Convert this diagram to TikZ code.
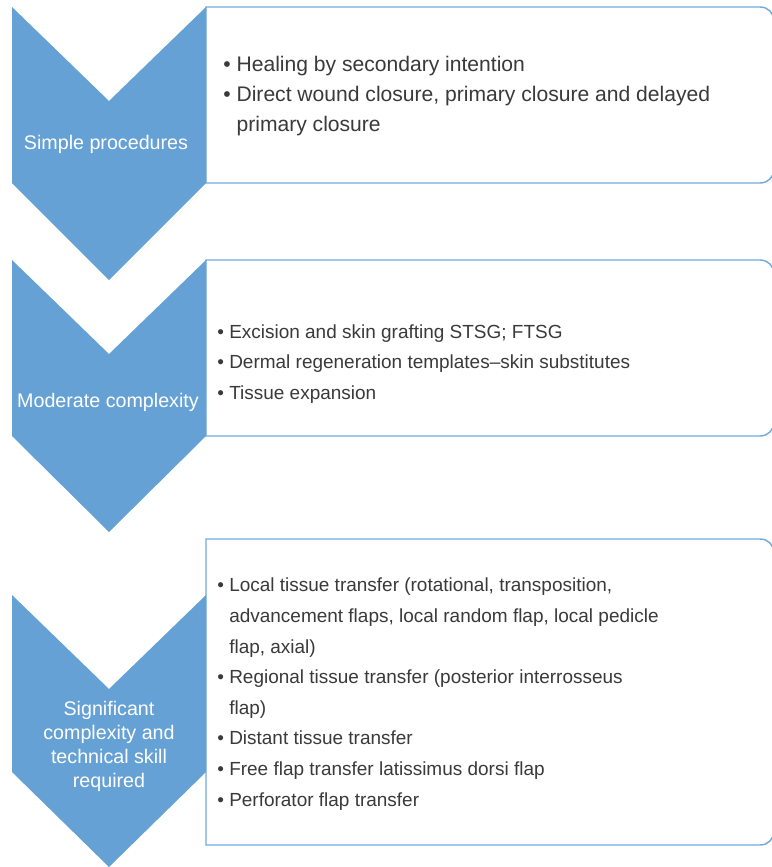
\documentclass[tikz,border=0pt]{standalone}
\usepackage{fontspec}
\setmainfont{Liberation Sans}
\usepackage{tikz}
\definecolor{chevblue}{HTML}{65A1D5}
\definecolor{rimblue}{HTML}{72A9DC}
\definecolor{inkgray}{HTML}{3A3A3A}
\tikzset{
  chev/.style={fill=chevblue},
  panel/.style={draw=rimblue,line width=0.8pt,fill=white},
  steptxt/.style={text=white,align=center,inner sep=0pt,anchor=base,font=\fontsize{11.2}{13.5}\selectfont},
  itemtxt/.style={text=inkgray,align=left,inner sep=0pt,anchor=base west}
}
\newcommand{\itm}{•\ }
\newcommand{\ind}{\hphantom{•\ }}

\begin{document}
\begin{tikzpicture}[x=0.2mm,y=-0.2mm]
\useasboundingbox (0,0) rectangle (772,867);
% panels, square on the left, rounded on the right
\draw[panel] (206,183) -- (206,7) -- (760,7) .. controls (768,7) and (774,13) .. (774,21)
  -- (774,169) .. controls (774,177) and (768,183) .. (760,183) -- cycle;
\draw[panel] (206,436) -- (206,260) -- (760,260) .. controls (768,260) and (774,266) .. (774,274)
  -- (774,422) .. controls (774,430) and (768,436) .. (760,436) -- cycle;
\draw[panel] (206,845) -- (206,539) -- (760,539) .. controls (768,539) and (774,545) .. (774,553)
  -- (774,831) .. controls (774,839) and (768,845) .. (760,845) -- cycle;
% chevrons
\fill[chev] (12,7) -- (109,101) -- (206,7) -- (206,183) -- (109,280) -- (12,183) -- cycle;
\fill[chev] (12,260) -- (109,354) -- (206,260) -- (206,436) -- (109,532) -- (12,436) -- cycle;
\fill[chev] (12,595) -- (109,689) -- (206,595) -- (206,772) -- (109,867) -- (12,772) -- cycle;
% step labels (base = last line)
\node[steptxt] (s1) at (106,149) {Simple procedures};
\node[steptxt] (s2) at (108,407) {Moderate complexity};
\node[steptxt] (s3) at (109,787) {Significant\\complexity and\\technical skill\\required};
% item lists (base = last line)
\node[itemtxt,font=\fontsize{12}{16.8}\selectfont] (l1) at (223,131)
  {\itm Healing by secondary intention\\
   \itm Direct wound closure, primary closure and delayed\\
   \ind primary closure};
\node[itemtxt,font=\fontsize{10.8}{17.1}\selectfont] (l2) at (217,399)
  {\itm Excision and skin grafting STSG; FTSG\\
   \itm Dermal regeneration templates--skin substitutes\\
   \itm Tissue expansion};
\node[itemtxt,font=\fontsize{10.8}{17.4}\selectfont] (l3) at (217,806)
  {\itm Local tissue transfer (rotational, transposition,\\
   \ind advancement flaps, local random flap, local pedicle\\
   \ind flap, axial)\\
   \itm Regional tissue transfer (posterior interrosseus\\
   \ind flap)\\
   \itm Distant tissue transfer\\
   \itm Free flap transfer latissimus dorsi flap\\
   \itm Perforator flap transfer};
\end{tikzpicture}
\end{document}
